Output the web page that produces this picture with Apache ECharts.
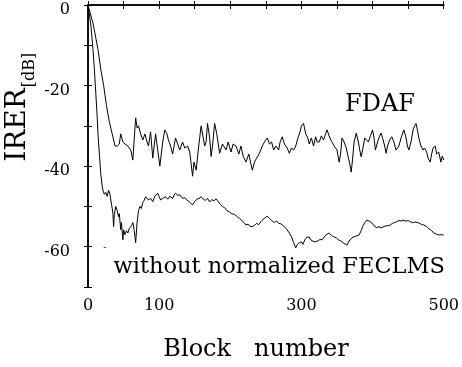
<!DOCTYPE html>
<html><head><meta charset="utf-8">
<script src="https://cdn.jsdelivr.net/npm/echarts@6/dist/echarts.min.js"></script>
<style>html,body{margin:0;padding:0;background:#fff}#c{width:462px;height:367px}</style>
</head><body><div id="c"></div>
<script>
const xTickLabels = [0, 100, 300, 500];
const yTickLabels = [0, -20, -40, -60];

const fdafBlocks = [0,7,14,18,22,26,30,34,38,41,44,46,49,52,56,60,63,67,69,71,74,77,80,83,85,88,91,95,98,101,105,108,111,113,116,119,121,123,126,129,133,136,140,143,147,149,152,155,159,162,164,166,168,171,173,175,178,181,185,189,194,197,201,204,208,212,215,218,222,226,229,231,234,237,241,245,248,252,255,258,261,264,268,270,273,276,280,283,286,289,292,295,298,300,303,306,309,311,314,317,320,322,325,328,331,334,336,339,341,343,346,350,353,355,357,360,363,366,368,370,372,374,377,380,382,384,387,389,391,394,397,400,402,404,407,410,412,414,417,419,421,424,427,430,433,437,440,444,447,449,451,454,457,459,461,463,465,468,471,473,476,478,481,483,485,488,490,493,496,498,500];
const fdafValues = [0,-4.5,-11,-16,-20,-25,-29,-32,-35,-35,-34.5,-32,-34,-34.5,-35,-36,-38.5,-28,-30.5,-30,-32,-33.5,-32,-34,-35,-31.5,-38,-32,-36,-40,-34,-31,-32,-33.5,-35,-37,-35,-33,-34.5,-36,-34,-35.5,-35,-36.5,-42.5,-39,-41,-36,-30,-33,-35,-34,-29.4,-33,-37.6,-35,-29.4,-32,-36.8,-34.5,-36,-34,-36.5,-34.5,-35,-37,-35,-37.5,-39,-37,-39.5,-41,-39,-38,-36.8,-35,-34,-33,-34.5,-34,-36,-35,-36,-34,-32.7,-34.5,-35.5,-36.8,-35.5,-36,-35,-33,-31.5,-30,-29.4,-32,-33,-34.5,-33,-35,-32.7,-34,-34,-32.5,-33.5,-32,-31,-32.5,-33.5,-34,-35,-36,-39,-37,-33,-34,-35.5,-38,-39.5,-41.5,-38,-34,-31.8,-34,-36,-37.7,-35,-33,-32.7,-34,-32.5,-31,-33,-36,-34,-32.5,-31.8,-33,-35,-36.8,-35,-33.5,-32.7,-34,-36,-35,-33,-31,-33,-35,-36,-34,-31,-30,-29.4,-31,-33,-35,-36,-35.5,-36.5,-38,-39,-37,-35.5,-35,-37,-36.5,-39,-37.5,-38.5];

const feclmsBlocks = [0,4,7,9,11,13,14,16,18,20,21,23,25,27,29,31,32,34,35,36,37,39,41,43,44,46,47,49,50,52,54,56,58,60,62,63,65,67,69,71,73,75,77,79,81,83,85,88,91,94,96,98,100,102,105,109,112,115,119,121,123,126,129,133,136,139,143,147,150,153,156,159,162,165,168,171,174,177,180,183,186,189,192,195,199,202,206,210,213,216,219,222,225,228,231,234,237,240,243,246,249,252,255,258,262,265,268,271,273,276,279,283,286,289,292,294,297,300,302,305,308,311,313,315,318,320,323,326,329,332,335,339,342,345,349,352,355,357,360,364,367,371,374,378,381,384,386,389,392,395,399,402,406,409,412,416,419,422,425,428,431,434,437,440,444,447,450,453,456,460,465,469,472,476,479,483,486,489,493,496,500];
const feclmsValues = [0,-5,-11,-16,-22,-28,-32,-37,-42,-45,-46,-47,-46.5,-47.5,-46,-47,-48.4,-50.5,-51.7,-55,-52,-50,-51,-52.6,-51.8,-55.8,-54,-58.3,-55.8,-57,-56,-56.6,-55.5,-55,-54.5,-54,-56,-59,-54,-51,-50,-50.5,-49,-48.5,-47.6,-48,-48.4,-48,-48.8,-47.5,-47.2,-46.7,-47.5,-48.4,-48,-47.6,-48.2,-47.5,-48,-47.2,-46.7,-47.3,-47.1,-48,-47.8,-48.4,-49,-49.6,-48.8,-48.2,-48,-47.6,-48.2,-48.5,-48,-48.9,-48.3,-48.6,-48.1,-48.8,-49.5,-50,-50.3,-51,-51.4,-51.8,-52,-52.6,-53,-53.4,-54,-54.6,-54.4,-55,-55,-54.7,-54.2,-54.5,-53.8,-53.2,-52.8,-52.4,-53,-53.5,-54,-53.6,-54.2,-54.3,-54.6,-55,-55.6,-56.6,-57.5,-59,-60.3,-59.5,-59,-58.8,-59.4,-58.2,-57.6,-57.6,-58.3,-58.3,-58.8,-59,-58.6,-58.2,-58.3,-57.6,-57,-56.6,-57.2,-57.5,-57.8,-58.3,-58.5,-58.8,-59.2,-59.6,-58.6,-57.8,-57.5,-57.3,-57.1,-56,-55,-54,-53.4,-53.6,-54.1,-54.8,-55.3,-55,-55.3,-55,-54.8,-54.8,-54.6,-54.2,-54,-53.8,-53.5,-53.6,-53.4,-53.7,-53.5,-53.8,-54,-53.9,-54.1,-54.5,-54.6,-55,-55.5,-56,-56.6,-56.8,-57.1,-57,-57.1];

const pair = (xs, ys) => xs.map((x, i) => [x, ys[i]]);
const FONT = 'DejaVu Serif';
const axisLineStyle = { color: '#000', width: 1.5 };
const tickStyle = { show: true, inside: true, length: 4, lineStyle: { color: '#000' } };

const chart = echarts.init(document.getElementById('c'), null, { renderer: 'canvas' });
chart.setOption({
  animation: false,
  backgroundColor: '#fff',
  grid: { left: 88, right: 17, top: 5, bottom: 80, containLabel: false },
  xAxis: [
    { type: 'value', position: 'bottom', min: 0, max: 500, interval: 50,
      axisLine: { show: true, lineStyle: axisLineStyle }, axisTick: tickStyle,
      splitLine: { show: false },
      axisLabel: { customValues: xTickLabels, fontFamily: FONT, fontSize: 16, color: '#000', margin: 11 } },
    { type: 'value', position: 'top', min: 0, max: 500, interval: 50,
      axisLine: { show: true, lineStyle: axisLineStyle }, axisTick: tickStyle,
      splitLine: { show: false }, axisLabel: { show: false } }
  ],
  yAxis: [
    { type: 'value', position: 'left', min: -70, max: 0, interval: 10,
      axisLine: { show: true, lineStyle: axisLineStyle }, axisTick: tickStyle,
      splitLine: { show: false }, axisLabel: { show: false } },
    { type: 'value', position: 'right', min: -70, max: 0, interval: 10,
      axisLine: { show: true, lineStyle: axisLineStyle }, axisTick: tickStyle,
      splitLine: { show: false }, axisLabel: { show: false } },
    // label-only axis: the printed labels sit ~5px below their ticks in the original figure
    { type: 'value', position: 'left', min: -68.75, max: 1.25,
      axisLine: { show: false }, axisTick: { show: false }, splitLine: { show: false },
      axisLabel: { customValues: yTickLabels, fontFamily: FONT, fontSize: 16, color: '#000', margin: 18 } }
  ],
  series: [
    { name: 'FDAF', type: 'line', xAxisIndex: 0, yAxisIndex: 0, data: pair(fdafBlocks, fdafValues),
      showSymbol: false, symbol: 'none', lineStyle: { color: '#000', width: 1 } },
    { name: 'FECLMS', type: 'line', xAxisIndex: 0, yAxisIndex: 0, data: pair(feclmsBlocks, feclmsValues),
      showSymbol: false, symbol: 'none', lineStyle: { color: '#000', width: 1 } }
  ],
  graphic: [
    { type: 'text', x: 18, y: 125, rotation: Math.PI / 2,
      style: { text: 'IRER', fontFamily: FONT, fontSize: 28, fill: '#000', align: 'center', verticalAlign: 'middle' } },
    { type: 'text', x: 30, y: 70, rotation: Math.PI / 2,
      style: { text: '[dB]', fontFamily: FONT, fontSize: 16, fill: '#000', align: 'center', verticalAlign: 'middle' } },
    { type: 'text', x: 256, y: 350,
      style: { text: 'Block   number', fontFamily: FONT, fontSize: 24, fill: '#000', align: 'center', verticalAlign: 'middle' } },
    { type: 'text', x: 380, y: 105,
      style: { text: 'FDAF', fontFamily: FONT, fontSize: 24, fill: '#000', align: 'center', verticalAlign: 'middle' } },
    { type: 'text', x: 445, y: 267,
      style: { text: 'without normalized FECLMS', fontFamily: FONT, fontSize: 22.5, fill: '#000', align: 'right', verticalAlign: 'middle' } },
    { type: 'text', x: 105, y: 247,
      style: { text: '-', fontFamily: FONT, fontSize: 10, fill: '#000', align: 'center', verticalAlign: 'middle' } }
  ]
});
</script></body></html>
